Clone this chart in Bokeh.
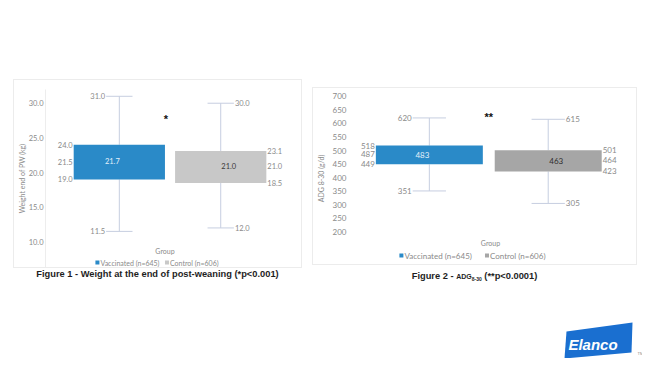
from bokeh.plotting import figure
from bokeh.models import (ColumnDataSource, Range1d, FixedTicker, NumeralTickFormatter, Div, Spacer)
from bokeh.layouts import column, row
from bokeh.core.properties import value
from bokeh.embed import file_html
from bokeh.resources import INLINE

# ---------------- data ----------------
groups = ["Vaccinated (n=645)", "Control (n=606)"]

# Figure 1 - weight at end of post-weaning (kg)
w_max = [31.0, 30.0]
w_q3 = [24.0, 23.1]
w_median = [21.5, 21.0]
w_q1 = [19.0, 18.5]
w_min = [11.5, 12.0]
w_mean = [21.7, 21.0]
w_ticks = [10, 15, 20, 25, 30]
w_sig = "*"
w_sig_x = 1.46
w_sig_y = 27.7

# Figure 2 - ADG 8-30 (g/d)
a_max = [620, 615]
a_q3 = [518, 501]
a_median = [487, 464]
a_q1 = [449, 423]
a_min = [351, 305]
a_mean = [483, 463]
a_ticks = [200, 250, 300, 350, 400, 450, 500, 550, 600, 650, 700]
a_sig = "**"
a_sig_x = 1.5
a_sig_y = 622.7

caption1 = "Figure 1 - Weight at the end of post-weaning (*p&lt;0.001)"
caption2 = ("Figure 2 - <span style='font-size:7px'>ADG<sub style='font-size:5px'>8-30</sub></span>"
            " (**p&lt;0.0001)")

# logo outline (logo-local pixel space)
logo_xs = [6, 72, 71, 4]
logo_ys = [11, 2, 32, 38]

# ---------------- style ----------------
FONT = "Lato"
GREY_TXT = "#8a8a8a"
BLUE = "#2A8AC8"
WHISK = "#C6CEE0"


def make_chart(maxv, q3, med, q1, minv, mean, ticks, sig_text, sig_x, sig_y, ylabel, fmt,
               width, height, borders, xr, yr, cap_w, font_px, legend_px,
               ctrl_color, ctrl_label_color, axis_line_color, ylabel_standoff,
               group_y, legend_y, legend_x):
    pos = [i + 1 for i in range(len(groups))]
    box_w = 0.9
    p = figure(width=width, height=height, x_range=Range1d(*xr), y_range=Range1d(*yr),
               output_backend="svg", toolbar_location=None,
               min_border_left=borders[0], min_border_right=borders[1],
               min_border_top=borders[2], min_border_bottom=borders[3],
               styles={"border": "1px solid #ececec"})
    p.outline_line_color = None
    p.xgrid.visible = False
    p.ygrid.visible = False
    p.xaxis.visible = False
    p.background_fill_color = "white"
    p.border_fill_color = "white"

    # y axis
    ya = p.yaxis[0]
    ya.ticker = FixedTicker(ticks=ticks)
    ya.formatter = NumeralTickFormatter(format="0.0" if fmt == "{:.1f}" else "0")
    ya.axis_line_color = axis_line_color
    ya.major_tick_line_color = None
    ya.minor_tick_line_color = None
    ya.major_tick_out = 0
    ya.major_tick_in = 0
    ya.minor_tick_out = 0
    ya.minor_tick_in = 0
    ya.major_label_text_font = FONT
    ya.major_label_text_font_size = font_px
    ya.major_label_text_color = GREY_TXT
    ya.major_label_standoff = 2
    ya.axis_label = ylabel
    ya.axis_label_text_font = FONT
    ya.axis_label_text_font_size = "7px"
    ya.axis_label_text_font_style = "normal"
    ya.axis_label_text_color = GREY_TXT
    ya.axis_label_standoff = ylabel_standoff

    colors = [BLUE, ctrl_color]

    # whiskers and caps
    p.segment(x0=pos, y0=q3, x1=pos, y1=maxv, line_color=WHISK, line_width=1)
    p.segment(x0=pos, y0=q1, x1=pos, y1=minv, line_color=WHISK, line_width=1)
    cap_x0 = [x - cap_w / 2 for x in pos]
    cap_x1 = [x + cap_w / 2 for x in pos]
    p.segment(x0=cap_x0, y0=maxv, x1=cap_x1, y1=maxv, line_color=WHISK, line_width=1)
    p.segment(x0=cap_x0, y0=minv, x1=cap_x1, y1=minv, line_color=WHISK, line_width=1)

    # boxes
    box_src = ColumnDataSource(dict(x=pos, top=q3, bottom=q1, color=colors, name=groups))
    p.vbar(x="x", width=box_w, top="top", bottom="bottom", source=box_src,
           fill_color="color", line_color=None)

    # value labels
    lx, ly, lt, rx, ry, rt = [], [], [], [], [], []
    for i, x in enumerate(pos):
        side = -1 if i == 0 else 1
        for v in (q3[i], med[i], q1[i]):
            tx, ty, tt = (lx, ly, lt) if side < 0 else (rx, ry, rt)
            tx.append(x + side * box_w / 2); ty.append(v); tt.append(fmt.format(v))
        for v in (maxv[i], minv[i]):
            tx, ty, tt = (lx, ly, lt) if side < 0 else (rx, ry, rt)
            tx.append(x + side * cap_w / 2); ty.append(v); tt.append(fmt.format(v))
    p.text(x=lx, y=ly, text=lt, text_align="right", text_baseline="middle", x_offset=-1,
           text_font=value(FONT), text_font_size=font_px, text_color=GREY_TXT)
    p.text(x=rx, y=ry, text=rt, text_align="left", text_baseline="middle", x_offset=1,
           text_font=value(FONT), text_font_size=font_px, text_color=GREY_TXT)

    # mean labels inside boxes
    mean_src = ColumnDataSource(dict(x=pos, y=mean, t=[fmt.format(v) for v in mean],
                                     c=["#E4F0FA", ctrl_label_color], off=[-7, 8]))
    p.text(x="x", y="y", text="t", source=mean_src, text_align="center", text_baseline="middle",
           x_offset="off", text_font=value(FONT), text_font_size=font_px, text_color="c")

    # significance marker
    p.text(x=[sig_x], y=[sig_y], text=[sig_text], text_align="center",
           text_baseline="middle", y_offset=0, text_font=value("Liberation Sans"),
           text_font_size="11px", text_font_style="bold", text_color="#111111")

    # category title under the boxes
    p.text(x=[(xr[0] + xr[1]) / 2], y=[group_y], text=["Group"], text_align="center",
           text_baseline="middle", text_font=value(FONT), text_font_size="7px",
           text_color=GREY_TXT)

    # legend: square swatch + label for each group
    leg_src = ColumnDataSource(dict(x=legend_x, y=[legend_y] * len(groups), c=colors, t=groups))
    p.scatter(x="x", y="y", source=leg_src, marker="square", size=4, fill_color="c",
              line_color=None)
    p.text(x="x", y="y", text="t", source=leg_src, text_align="left", text_baseline="middle",
           x_offset=3, text_font=value(FONT), text_font_size=legend_px, text_color=GREY_TXT)
    return p


fig1 = make_chart(w_max, w_q3, w_median, w_q1, w_min, w_mean, w_ticks, w_sig, w_sig_x, w_sig_y,
                  "Weight end of PW (kg)", "{:.1f}",
                  width=289, height=189, borders=(30, 19, 9, 2),
                  xr=(0.272, 2.629), yr=(6.29, 31.98), cap_w=0.26,
                  font_px="7.5px", legend_px="7px",
                  ctrl_color="#C8C8C8", ctrl_label_color="#3a3a3a",
                  axis_line_color="#ededed", ylabel_standoff=0,
                  group_y=8.74, legend_y=7.01, legend_x=[0.784, 1.47])

fig2 = make_chart(a_max, a_q3, a_median, a_q1, a_min, a_mean, a_ticks, a_sig, a_sig_x, a_sig_y,
                  "ADG 8-30 (g/d)", "{:.0f}",
                  width=325, height=178, borders=(35, 6, 3, 1),
                  xr=(0.32, 2.709), yr=(76.3, 717.4), cap_w=0.28,
                  font_px="8px", legend_px="8px",
                  ctrl_color="#A6A6A6", ctrl_label_color="#2e2e2e",
                  axis_line_color=None, ylabel_standoff=5,
                  group_y=158.4, legend_y=113.1, legend_x=[0.765, 1.485])

cap_style = {"font-family": "Liberation Sans", "font-weight": "bold", "font-size": "9.3px",
             "text-align": "center", "line-height": "12px", "color": "#1e1e1e"}
cap1 = Div(text=caption1, width=289, height=12, margin=0, styles=cap_style)
cap2 = Div(text=caption2, width=325, height=12, margin=0, styles=cap_style)

# logo
logo = figure(width=82, height=38, x_range=Range1d(0, 82), y_range=Range1d(38, 0),
              output_backend="svg", toolbar_location=None, min_border=0)
logo.axis.visible = False
logo.grid.visible = False
logo.outline_line_color = None
logo.patch(x=logo_xs, y=logo_ys, fill_color="#1A6FD0", line_color=None)
logo.text(x=[32.5], y=[24], text=["Elanco"], text_align="center", text_baseline="middle",
          text_font=value("Liberation Sans"), text_font_size="15px",
          text_font_style="bold italic", text_color="white")
logo.text(x=[80], y=[33], text=["TM"], text_align="center", text_baseline="middle",
          text_font=value("Liberation Sans"), text_font_size="4px", text_color="#888888")

col1 = column(fig1, cap1)
col2 = column(Spacer(width=10, height=8), fig2, Spacer(width=10, height=5), cap2)
charts = row(Spacer(width=13, height=10), col1, Spacer(width=10, height=10), col2)
root = column(Spacer(width=10, height=79), charts, Spacer(width=10, height=38),
              row(Spacer(width=560, height=10), logo))

open("out.html", "w").write(file_html(root, INLINE))
